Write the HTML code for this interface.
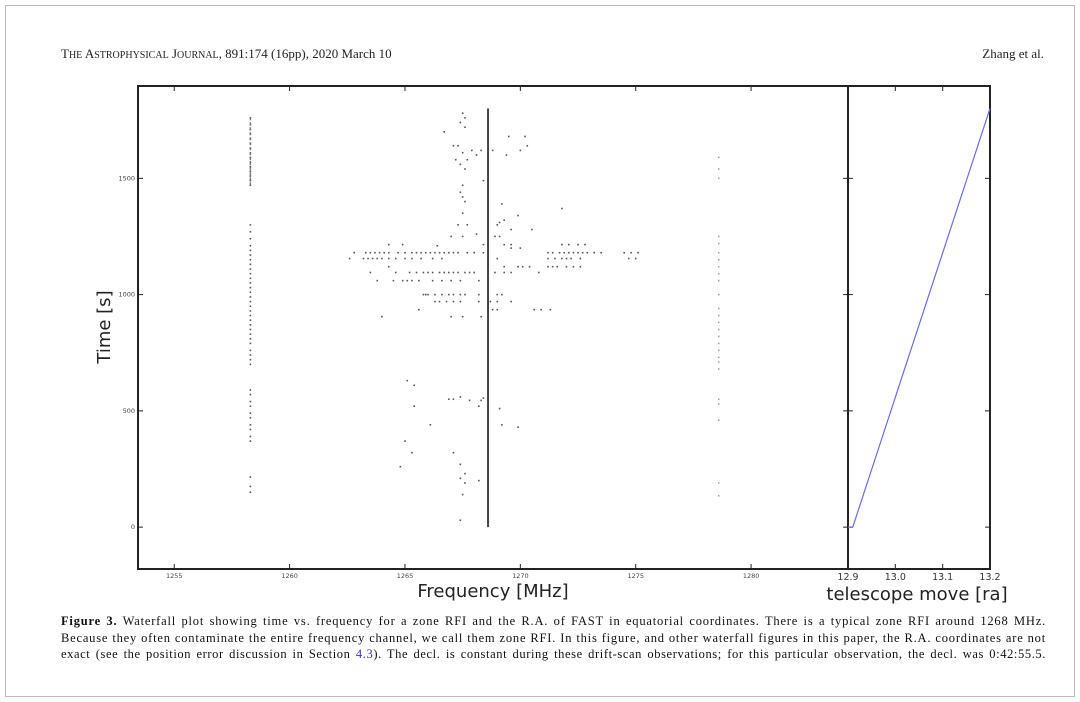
<!DOCTYPE html>
<html><head><meta charset="utf-8">
<style>
html,body{margin:0;padding:0;background:#fff;}
body{width:1080px;height:702px;position:relative;overflow:hidden;font-family:"Liberation Serif",serif;}
#frame{position:absolute;left:5px;top:5px;width:1068px;height:690px;border:1px solid #bbb;}
.hdr{position:absolute;top:46px;font-size:13px;color:#222;}
#cap{position:absolute;left:61px;top:613px;width:985px;font-size:12.5px;line-height:16.5px;color:#111;}
#cap div{white-space:nowrap;text-align:justify;text-align-last:justify;letter-spacing:0.8px;overflow:hidden;}
#cap div.last{letter-spacing:0.6px;}
svg{position:absolute;left:0;top:0;}
</style></head>
<body>
<div id="frame"></div>
<div class="hdr" style="left:61px">T<span style="font-size:10px">HE</span> A<span style="font-size:10px">STROPHYSICAL</span> J<span style="font-size:10px">OURNAL</span>, 891:174 (16pp), 2020 March 10</div>
<div class="hdr" style="right:36px">Zhang et al.</div>
<svg id="chart" width="1080" height="702"></svg>
<div id="cap"><div><b>Figure 3.</b> Waterfall plot showing time vs. frequency for a zone RFI and the R.A. of FAST in equatorial coordinates. There is a typical zone RFI around 1268 MHz.</div><div>Because they often contaminate the entire frequency channel, we call them zone RFI. In this figure, and other waterfall figures in this paper, the R.A. coordinates are not</div><div class="last">exact (see the position error discussion in Section <span style="color:#33c">4.3</span>). The decl. is constant during these drift-scan observations; for this particular observation, the decl. was 0:42:55.5.</div></div>
<script>
// ---- data ----
const xTicks=[1255,1260,1265,1270,1275,1280];
const yTicks=[0,500,1000,1500];
const raTicks=[12.9,13.0,13.1,13.2];
const zoneFreq=1268.6, zoneStart=0, zoneEnd=1800;
const col1Freq=1258.3;
const col1Times=[150,175,215,370,390,420,440,470,490,520,540,570,590,700,720,740,760,790,810,830,850,870,890,910,930,950,970,990,1010,1030,1050,1070,1090,1110,1130,1150,1170,1190,1210,1240,1270,1300,1470,1490,1510,1530,1550,1570,1590,1610,1630,1650,1670,1690,1710,1730,1760];
const col2Freq=1278.6;
const col2Times=[135,190,460,530,550,680,710,730,760,790,820,850,880,910,940,1000,1060,1090,1120,1150,1180,1220,1250,1500,1540,1590];
const ptFreqs=[1267.5,1267.6,1267.4,1267.6,1266.7,1267.3,1267.1,1267.9,1268.3,1267.5,1268.1,1267.7,1267.2,1267.4,1267.6,1267.5,1267.4,1267.6,1267.5,1267.3,1267.7,1268.1,1267.5,1268.9,1269.1,1269.0,1269.6,1266.4,1267.0,1269.1,1270.0,1269.2,1269.9,1265.1,1265.4,1265.4,1266.1,1266.9,1267.1,1267.4,1267.8,1268.3,1268.4,1268.2,1269.1,1269.2,1269.9,1265.0,1265.3,1264.8,1267.1,1267.4,1267.6,1268.2,1267.4,1267.6,1267.5,1267.4,1269.4,1268.8,1269.5,1270.2,1270.0,1270.3,1269.3,1267.5,1268.4,1269.6,1270.5,1271.8];
const ptTimes=[1780,1760,1740,1720,1700,1640,1640,1620,1620,1610,1600,1580,1580,1560,1540,1470,1440,1400,1350,1300,1300,1260,1250,1250,1250,1300,1280,1210,1250,1310,1200,1390,1340,630,610,520,440,550,550,560,545,545,555,520,510,440,430,370,320,260,320,270,230,200,210,190,140,30,1600,1620,1680,1680,1620,1640,1320,1420,1490,1200,1280,1370];
const streakTimes=[1180,1180,1180,1180,1180,1180,1180,1180,1180,1180,1180,1180,1180,1180,1180,1180,1180,1180,1180,1180,1180,1180,1180,1180,1180,1180,1180,1180,1180,1180,1180,1180,1180,1180,1180,1180,1180,1155,1155,1155,1155,1155,1155,1155,1155,1155,1155,1155,1155,1155,1155,1155,1155,1155,1155,1155,1155,1155,1155,1120,1120,1120,1120,1120,1120,1120,1120,1120,1120,1120,1095,1095,1095,1095,1095,1095,1095,1095,1095,1095,1095,1095,1095,1095,1095,1095,1095,1095,1095,1060,1060,1060,1060,1060,1060,1060,1060,1060,1060,1060,1000,1000,1000,1000,1000,1000,1000,1000,1000,1000,1000,1000,970,970,970,970,970,970,970,970,970,935,935,935,935,935,935,905,905,905,905,1215,1215,1215,1215,1215,1215,1215,1215,1215,1215];
const streakFreqs=[1262.8,1263.3,1263.5,1263.7,1263.9,1264.1,1264.3,1264.7,1265.0,1265.3,1265.5,1265.7,1265.9,1266.1,1266.3,1266.5,1266.7,1266.9,1267.1,1267.3,1267.7,1268.0,1268.4,1271.2,1271.4,1271.7,1271.9,1272.1,1272.3,1272.5,1272.7,1272.9,1273.2,1273.5,1274.5,1274.8,1275.1,1262.6,1263.2,1263.4,1263.6,1263.8,1264.0,1264.3,1264.6,1265.0,1265.3,1265.7,1266.2,1266.6,1271.2,1271.5,1271.8,1272.0,1272.2,1272.6,1274.7,1275.0,1269.0,1269.3,1269.9,1270.1,1270.4,1271.2,1271.4,1271.6,1272.0,1272.3,1272.6,1264.3,1264.6,1265.2,1265.5,1265.8,1266.0,1266.2,1266.5,1266.7,1266.9,1267.1,1267.3,1267.6,1267.8,1268.0,1268.9,1269.3,1269.6,1270.8,1263.5,1263.8,1264.5,1264.9,1265.3,1265.6,1266.2,1266.6,1267.0,1267.4,1268.2,1265.1,1265.8,1266.0,1266.3,1266.6,1266.9,1267.1,1267.4,1267.6,1268.2,1269.0,1269.2,1265.9,1266.3,1266.5,1266.8,1267.1,1267.4,1268.7,1269.0,1269.6,1268.2,1268.8,1269.0,1270.6,1270.9,1271.3,1265.6,1267.0,1267.5,1268.3,1264.0,1264.3,1264.9,1268.4,1269.3,1269.6,1271.8,1272.1,1272.5,1272.8];
const raStart=12.91, raEnd=13.2, raT0=0, raT1=1800;
// ---- scales ----
const L=138,R=848,T=86,B=569,R2=990;
const fMin=1253.43,fMax=1284.2,tMin=-180,tMax=1897,raMin=12.9,raMax=13.2;
const sx=f=>L+(f-fMin)/(fMax-fMin)*(R-L);
const sy=t=>B-(t-tMin)/(tMax-tMin)*(B-T);
const sr=r=>R+(r-raMin)/(raMax-raMin)*(R2-R);
const NS='http://www.w3.org/2000/svg';
const svg=document.getElementById('chart');
function mk(tag,attrs,parent){const e=document.createElementNS(NS,tag);for(const k in attrs)e.setAttribute(k,attrs[k]);(parent||svg).appendChild(e);return e;}
const dots=mk('g',{fill:'#555'});


function dot(f,t){mk('rect',{x:sx(f)-0.8,y:sy(t)-0.8,width:1.6,height:1.6},dots);}
col1Times.forEach(t=>dot(col1Freq,t));
col2Times.forEach(t=>{mk('rect',{x:sx(col2Freq)-0.6,y:sy(t)-0.8,width:1.2,height:1.6,fill:'#888'},dots);});
ptFreqs.forEach((f,i)=>dot(f,ptTimes[i]));
streakFreqs.forEach((f,i)=>dot(f,streakTimes[i]));
const col1Line=mk('line',{x1:sx(col1Freq),x2:sx(col1Freq),y1:sy(1470),y2:sy(1760),stroke:'#777','stroke-width':1.4,'stroke-dasharray':'3 2'});


const zl=mk('line',{x1:sx(zoneFreq),x2:sx(zoneFreq),y1:sy(zoneStart),y2:sy(zoneEnd),stroke:'#444','stroke-width':2});


// axes
const ax=mk('g',{});


mk('rect',{x:L,y:T,width:R-L,height:B-T,fill:'none',stroke:'#222','stroke-width':2},ax);
mk('rect',{x:R,y:T,width:R2-R,height:B-T,fill:'none',stroke:'#222','stroke-width':2},ax);
xTicks.forEach(v=>{const x=sx(v);mk('line',{x1:x,x2:x,y1:B,y2:B-5,stroke:'#222'},ax);mk('line',{x1:x,x2:x,y1:T,y2:T+5,stroke:'#222'},ax);
 const t=mk('text',{x:x,y:B+9,'font-size':6.5,'text-anchor':'middle',fill:'#444','font-family':'DejaVu Sans'},ax);t.textContent=v;
 
});
yTicks.forEach(v=>{const y=sy(v);mk('line',{x1:L,x2:L+5,y1:y,y2:y,stroke:'#222'},ax);mk('line',{x1:R-5,x2:R,y1:y,y2:y,stroke:'#222'},ax);
 mk('line',{x1:R,x2:R+5,y1:y,y2:y,stroke:'#222'},ax);mk('line',{x1:R2-5,x2:R2,y1:y,y2:y,stroke:'#222'},ax);
 const t=mk('text',{x:L-3,y:y+2,'font-size':6.5,'text-anchor':'end',fill:'#444','font-family':'DejaVu Sans'},ax);t.textContent=v;
 
});
raTicks.forEach(v=>{const x=sr(v);mk('line',{x1:x,x2:x,y1:B,y2:B-5,stroke:'#222'},ax);mk('line',{x1:x,x2:x,y1:T,y2:T+5,stroke:'#222'},ax);
 const t=mk('text',{x:x,y:B+11,'font-size':9.5,'text-anchor':'middle',fill:'#333','font-family':'DejaVu Sans'},ax);t.textContent=v.toFixed(1);
 
});
const ral=mk('line',{x1:sr(raStart),y1:sy(raT0),x2:sr(raEnd),y2:sy(raT1),stroke:'#6a6ae8','stroke-width':1.2});


mk('line',{x1:R,x2:sr(raStart),y1:sy(0),y2:sy(0),stroke:'#6a6ae8','stroke-width':1.2});
const xt=mk('text',{x:493,y:597,'font-size':18,'text-anchor':'middle',fill:'#222','font-family':'DejaVu Sans'});xt.textContent='Frequency [MHz]';


const rt=mk('text',{x:917,y:600,'font-size':18,'text-anchor':'middle',fill:'#222','font-family':'DejaVu Sans'});rt.textContent='telescope move [ra]';


const yt=mk('text',{x:110,y:327,'font-size':18,'text-anchor':'middle',fill:'#222','font-family':'DejaVu Sans',transform:'rotate(-90 110 327)'});yt.textContent='Time [s]';


</script>
</body></html>
